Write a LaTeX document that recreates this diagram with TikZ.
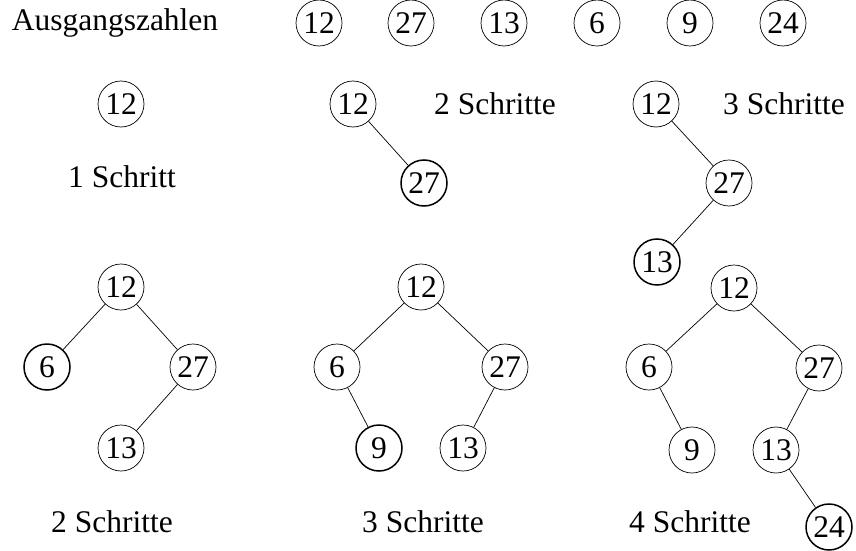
\documentclass[tikz,border=0pt]{standalone}
\usepackage{fontspec}
\setmainfont{Liberation Serif}

\tikzset{mnode/.style = {shape = circle,
                         color = black,
                         inner sep = 0pt,
                         minimum size = 46pt,
                         line width = 0.7pt,
                         font = \fontsize{31.5}{36}\selectfont,
                         draw},
         nnode/.style = {mnode, line width = 1.5pt},
         tnode/.style = {inner sep = 0pt,
                         font = \fontsize{31.5}{36}\selectfont}}

\begin{document}
\begin{tikzpicture}[x=1pt, y=-1pt, line width=0.7pt]
		\useasboundingbox (0,0) rectangle (856,551);
		% Ausgangszahlen
		\node[tnode] (t0) at (115,23) {Ausgangszahlen};
		\node[mnode] (z1) at (319,23) {12};
		\node[mnode] (z2) at (411,23) {27};
		\node[mnode] (z3) at (504,23) {13};
		\node[mnode] (z4) at (597,23) {6};
		\node[mnode] (z5) at (690,23) {9};
		\node[mnode] (z6) at (783,23) {24};
		% 1 Schritt
		\node[mnode] (a1) at (121,104) {12};
		\node[tnode] (ta) at (122,177) {1 Schritt};
		% 2 Schritte
		\node[mnode] (b1) at (353,104) {12};
		\node[nnode] (b2) at (424,183) {27};
		\node[tnode] (tb) at (495,104) {2 Schritte};
		\path (b1) edge (b2);
		% 3 Schritte
		\node[mnode] (c1) at (656,104) {12};
		\node[mnode] (c2) at (729,183) {27};
		\node[nnode] (c3) at (657,262) {13};
		\node[tnode] (tc) at (784,104) {3 Schritte};
		\path (c1) edge (c2);
		\path (c2) edge (c3);
		% 2 Schritte
		\node[mnode] (d1) at (121,287) {12};
		\node[nnode] (d2) at (47,367) {6};
		\node[mnode] (d3) at (193,367) {27};
		\node[mnode] (d4) at (121,448) {13};
		\node[tnode] (td) at (112,522) {2 Schritte};
		\path (d1) edge (d2);
		\path (d1) edge (d3);
		\path (d3) edge (d4);
		% 3 Schritte
		\node[mnode] (e1) at (421,287) {12};
		\node[mnode] (e2) at (337,367) {6};
		\node[mnode] (e3) at (505,367) {27};
		\node[nnode] (e4) at (379,448) {9};
		\node[mnode] (e5) at (463,448) {13};
		\node[tnode] (te) at (423,522) {3 Schritte};
		\path (e1) edge (e2);
		\path (e1) edge (e3);
		\path (e2) edge (e4);
		\path (e3) edge (e5);
		% 4 Schritte
		\node[mnode] (f1) at (734,288) {12};
		\node[mnode] (f2) at (649,367) {6};
		\node[mnode] (f3) at (819,368) {27};
		\node[mnode] (f4) at (692,450) {9};
		\node[mnode] (f5) at (776,450) {13};
		\node[nnode] (f6) at (829,527) {24};
		\node[tnode] (tf) at (690,522) {4 Schritte};
		\path (f1) edge (f2);
		\path (f1) edge (f3);
		\path (f2) edge (f4);
		\path (f3) edge (f5);
		\path (f5) edge (f6);
	\end{tikzpicture}
\end{document}
